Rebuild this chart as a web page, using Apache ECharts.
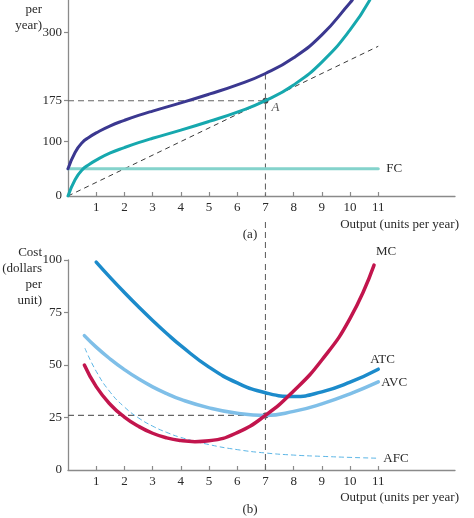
<!DOCTYPE html>
<html><head><meta charset="utf-8">
<script src="https://cdn.jsdelivr.net/npm/echarts@6/dist/echarts.min.js"></script>
<style>html,body{margin:0;padding:0;background:#fff}#c{width:474px;height:518px}</style>
</head><body><div id="c"></div>
<script>
// ---- data ----
const xTicks = [1, 2, 3, 4, 5, 6, 7, 8, 9, 10, 11];
const yTicksTop = [0, 100, 175, 300];
const yTicksBottom = [0, 25, 50, 75, 100];

// panel (a): cost per year
const qTC = [0, 0.25, 0.5, 0.75, 1, 1.5, 2, 2.5, 3, 4, 5, 6, 7, 8, 9, 10, 10.08];
const tc  = [50, 80, 98, 108, 116, 129, 139, 148, 156, 171, 187, 204, 225, 254, 296, 355, 360];
const qVC = [0, 0.25, 0.5, 0.75, 1, 1.5, 2, 2.5, 3, 4, 5, 6, 7, 8, 9, 10, 10.7];
const vc  = [0, 30, 48, 58, 66, 79, 89, 98, 106, 121, 137, 154, 175, 204, 246, 305, 360];
const qFC = [0, 11];
const fc  = [50, 50];
const qRay = [0, 11];
const ray  = [0, 275];
const pointA = [7, 175];

// panel (b): cost per unit
const qATC = [1, 1.5, 2, 2.5, 3, 3.5, 4, 5, 6, 7, 8, 9, 10, 11];
const atc  = [99, 91.6, 84.5, 77.7, 71.2, 65, 59.2, 49, 41.5, 36.8, 35, 37.2, 41.8, 48];
const qAVC = [0.58, 1, 1.5, 2, 2.5, 3, 3.5, 4, 5, 6, 7, 8, 9, 10, 11];
const avc  = [64, 58.5, 52.8, 47.8, 43.4, 39.6, 36.4, 33.6, 29.6, 27, 26, 27.9, 31.5, 36.3, 42];
const qMC = [0.58, 1, 1.5, 2, 2.5, 3, 3.5, 4, 4.5, 5, 6, 7, 8, 9, 10, 10.85];
const mc  = [50, 39.7, 31.2, 25.2, 20.8, 17.5, 15.3, 14, 13.5, 13.9, 17.8, 26, 37.6, 52.4, 72.2, 97.6];
const qAFC = [0.6, 1, 1.5, 2, 2.5, 3, 3.5, 4, 5, 6, 7, 8, 9, 10, 11];
const afc  = [58, 47, 37, 30, 24.8, 20.9, 17.9, 15.5, 12.1, 9.7, 8.1, 7.1, 6.5, 6, 5.6];
const pointB = [7, 26];

// ---- chart ----
const FONT = 'Liberation Serif';
const txt = {fontFamily: FONT, fontSize: 13, color: '#2a2a2a'};
const AX = '#8a8a8a';
const pairs = (xs, ys) => xs.map((x, i) => [x, ys[i]]);

function xAx(gi) {
  return {type: 'value', gridIndex: gi, min: 0, max: 13.72,
    axisLine: {show: true, onZero: false, lineStyle: {color: AX, width: 1.3}},
    axisTick: {show: true, inside: true, length: 4, customValues: xTicks, lineStyle: {color: AX, width: 1.2}},
    axisLabel: Object.assign({customValues: xTicks, margin: 5}, txt),
    splitLine: {show: false}};
}
function yAx(gi, max, ticks) {
  return {type: 'value', gridIndex: gi, min: 0, max: max,
    axisLine: {show: true, lineStyle: {color: AX, width: 1.3}},
    axisTick: {show: true, length: 4, customValues: ticks.filter(v => v > 0), lineStyle: {color: AX, width: 1.2}},
    axisLabel: Object.assign({customValues: ticks, margin: 6}, txt),
    splitLine: {show: false}};
}
function line(gi, xs, ys, color, width, extra) {
  return Object.assign({type: 'line', xAxisIndex: gi, yAxisIndex: gi, data: pairs(xs, ys),
    symbol: 'none', smooth: 0.5, silent: true,
    lineStyle: {color: color, width: width, cap: 'round'}}, extra || {});
}
function endLbl(text, offset, distance) {
  return {endLabel: Object.assign({show: true, formatter: text, offset: offset, distance: distance}, txt)};
}
const dash = {type: [6, 4], color: '#666', width: 1.1};

const option = {
  animation: false,
  backgroundColor: '#fff',
  grid: [
    {left: 68, top: 0, width: 387, height: 196},
    {left: 68, top: 260, width: 387, height: 210}
  ],
  xAxis: [xAx(0), xAx(1)],
  yAxis: [yAx(0, 360, yTicksTop), yAx(1, 100, yTicksBottom)],
  series: [
    // panel (a)
    line(0, [0, pointA[0]], [pointA[1], pointA[1]], null, 1, {smooth: false, lineStyle: dash}),
    line(0, [pointA[0], pointA[0]], [tc[qTC.indexOf(7)], 0], null, 1, {smooth: false, lineStyle: dash}),
    line(0, qRay, ray, '#333', 1, {smooth: false, lineStyle: {type: [5, 4], color: '#3a3a3a', width: 1}}),
    line(0, qFC, fc, '#84d3cc', 3, Object.assign({smooth: false}, endLbl('FC', [0, 0], 8))),
    line(0, qVC, vc, '#16a8ae', 3),
    line(0, qTC, tc, '#3b3890', 3),
    {type: 'scatter', xAxisIndex: 0, yAxisIndex: 0, data: [pointA], symbolSize: 6, silent: true,
      itemStyle: {color: '#111'},
      label: Object.assign({show: true, formatter: 'A', position: 'right', distance: 3, offset: [0, 7], fontStyle: 'italic'}, txt)},
    // panel (b)
    line(1, [0, pointB[0]], [pointB[1], pointB[1]], null, 1, {smooth: false, lineStyle: dash}),
    line(1, [pointB[0], pointB[0]], [0, 100], null, 1, {smooth: false, lineStyle: dash}),
    line(1, qAFC, afc, '#5cb6e6', 1, Object.assign({lineStyle: {color: '#5cb6e6', width: 1, type: [5, 3]}}, endLbl('AFC', [0, 0], 5))),
    line(1, qAVC, avc, '#7fbfe8', 3.5, endLbl('AVC', [0, 1], 3)),
    line(1, qATC, atc, '#1c8bcb', 3.5, endLbl('ATC', [-13, -10], 5)),
    line(1, qMC, mc, '#c2154d', 3.5, endLbl('MC', [-3, -13], 5)),
    {type: 'scatter', xAxisIndex: 1, yAxisIndex: 1, data: [pointB], symbolSize: 6, silent: true,
      itemStyle: {color: '#111'}}
  ],
  graphic: [
    {type: 'text', style: {text: 'per\nyear)', x: 42, y: 2, align: 'right', lineHeight: 16, fill: '#2a2a2a', font: '13px "Liberation Serif"'}},
    {type: 'text', style: {text: 'Cost\n(dollars\nper\nunit)', x: 42, y: 245, align: 'right', lineHeight: 16, fill: '#2a2a2a', font: '13px "Liberation Serif"'}},
    {type: 'text', style: {text: 'Output (units per year)', x: 459, y: 218, align: 'right', fill: '#2a2a2a', font: '13px "Liberation Serif"'}},
    {type: 'text', style: {text: 'Output (units per year)', x: 459, y: 491, align: 'right', fill: '#2a2a2a', font: '13px "Liberation Serif"'}},
    {type: 'text', style: {text: '(a)', x: 250, y: 235, align: 'center', verticalAlign: 'middle', fill: '#2a2a2a', font: '13px "Liberation Serif"'}},
    {type: 'text', style: {text: '(b)', x: 250, y: 510, align: 'center', verticalAlign: 'middle', fill: '#2a2a2a', font: '13px "Liberation Serif"'}}
  ]
};

const chart = echarts.init(document.getElementById('c'), null, {renderer: 'canvas'});
chart.setOption(option);

// dashed connector between the two panels at q = 7
const pTop = chart.convertToPixel({xAxisIndex: 0, yAxisIndex: 0}, [pointA[0], 0]);
const pBot = chart.convertToPixel({xAxisIndex: 1, yAxisIndex: 1}, [pointB[0], 100]);
chart.setOption({graphic: option.graphic.concat([
  {type: 'line', shape: {x1: pTop[0], y1: pTop[1] + 26, x2: pBot[0], y2: pBot[1]},
    style: {stroke: '#666', lineWidth: 1.1, lineDash: [6, 4]}, silent: true}
])});
</script>
</body></html>
